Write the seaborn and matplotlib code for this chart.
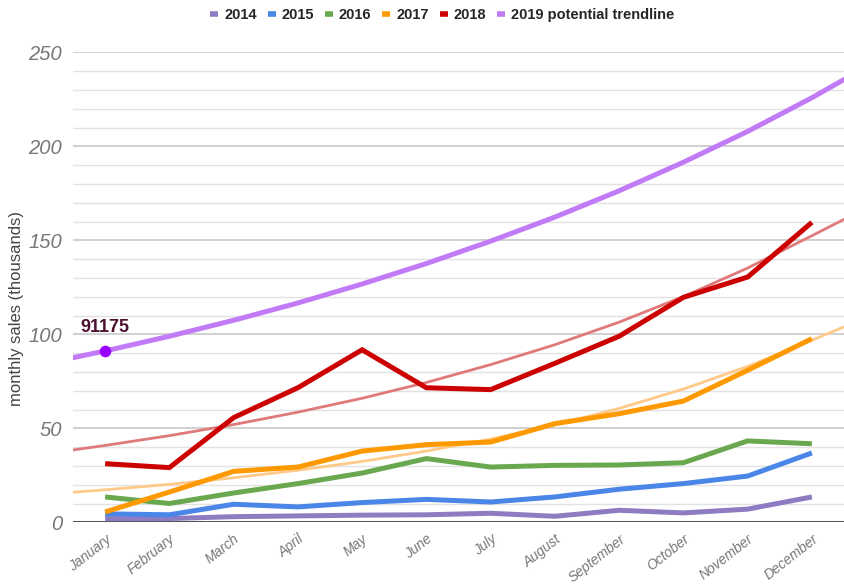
import matplotlib
matplotlib.use("Agg")
import matplotlib.pyplot as plt
from matplotlib.lines import Line2D
import numpy as np
import pandas as pd
import seaborn as sns

# Monthly sales in thousands
months = ["January", "February", "March", "April", "May", "June", "July",
          "August", "September", "October", "November", "December"]
sales_2014 = [2.0, 2.0, 3.0, 3.4, 3.8, 4.0, 4.8, 3.2, 6.4, 5.0, 7.0, 13.5]
sales_2015 = [4.5, 4.0, 9.6, 8.2, 10.5, 12.2, 10.8, 13.5, 17.6, 20.6, 24.6, 36.9]
sales_2016 = [13.5, 10.0, 15.6, 20.6, 26.2, 33.9, 29.4, 30.3, 30.5, 31.7, 43.3, 41.8]
sales_2017 = [5.5, 16.1, 27.1, 29.4, 37.9, 41.3, 42.7, 52.5, 57.8, 64.5, 80.9, 97.7]
sales_2018 = [31.2, 29.1, 55.7, 71.6, 91.8, 71.6, 70.6, 84.6, 99.0, 119.7, 130.5, 159.6]

# Trendlines span the full axis, half a month beyond January and December
trend_pos = [-0.5, 0, 1, 2, 3, 4, 5, 6, 7, 8, 9, 10, 11, 11.5]
trend_2017 = [16.0, 17.3, 20.2, 23.7, 27.7, 32.4, 37.9, 44.3, 51.8, 60.6, 70.9, 82.9, 96.9, 104.0]
trend_2018 = [38.5, 40.9, 46.1, 52.0, 58.6, 66.0, 74.4, 83.9, 94.5, 106.5, 120.1, 135.3, 152.5, 161.2]
trend_2019 = [87.6, 91.175, 99.0, 107.5, 116.7, 126.8, 137.7, 149.6, 162.4, 176.4, 191.6, 208.0, 225.9, 235.6]

jan_2019 = 91.175
jan_2019_label = "91175"

series_names = ["2014", "2015", "2016", "2017", "2018"]
series_values = [sales_2014, sales_2015, sales_2016, sales_2017, sales_2018]
colors = {"2014": "#8e7cc3", "2015": "#4a86e8", "2016": "#6aa84f",
          "2017": "#ff9900", "2018": "#cc0000", "2019 potential trendline": "#c27bf7"}

sales = pd.DataFrame({
    "month": np.tile(np.arange(len(months)), len(series_names)),
    "sales": np.concatenate(series_values),
    "year": np.repeat(series_names, len(months)),
})
trends = pd.DataFrame({
    "month": np.tile(trend_pos, 3),
    "sales": np.concatenate([trend_2017, trend_2018, trend_2019]),
    "year": np.repeat(["2017", "2018", "2019"], len(trend_pos)),
})

sns.set_theme(style="white")
plt.rcParams["font.family"] = ["Liberation Sans", "DejaVu Sans"]

fig = plt.figure(figsize=(8.44, 5.88), dpi=100)
ax = fig.add_axes([73 / 844, 65.7 / 588, 1 - 73 / 844, 0.7990])

# grid: light lines every 10k, darker every 50k
for v in range(10, 260, 10):
    major = v % 50 == 0
    ax.axhline(v, color="#c4c4c4" if major else "#e2e2e2", lw=1.1 if major else 1.0, zorder=0)
ax.axhline(0, color="#333333", lw=1.2, zorder=1)

# faded trendlines for 2017 and 2018
sns.lineplot(data=trends[trends.year == "2017"], x="month", y="sales", ax=ax,
             color="#ffc98a", lw=2.0, legend=False, zorder=2)
sns.lineplot(data=trends[trends.year == "2018"], x="month", y="sales", ax=ax,
             color="#e07a7a", lw=2.0, legend=False, zorder=2)

sns.lineplot(data=sales, x="month", y="sales", hue="year", palette=colors,
             hue_order=series_names, lw=3.6, ax=ax, legend=False, zorder=3,
             solid_capstyle="butt", solid_joinstyle="miter")

sns.lineplot(data=trends[trends.year == "2019"], x="month", y="sales", ax=ax,
             color=colors["2019 potential trendline"], lw=3.6, legend=False, zorder=4)
ax.scatter([0], [jan_2019], s=70, color="#9900ff", zorder=5, linewidths=0)
ax.annotate(jan_2019_label, (0, jan_2019), xytext=(0, 11), textcoords="offset points",
            ha="center", va="bottom", fontsize=13, fontweight="bold", color="#4c1130")

ax.set_xlim(-0.5, 11.5)
ax.set_ylim(0, 250)
ax.set_yticks(range(0, 251, 50))
ax.set_yticklabels([str(v) for v in range(0, 251, 50)], fontsize=14.5,
                   style="italic", color="#777777")
ax.set_xticks(range(len(months)))
ax.set_xticklabels(months, rotation=38, ha="right", va="top", rotation_mode="anchor",
                   fontsize=10, style="italic", color="#777777")
ax.tick_params(axis="y", length=0, pad=8)
ax.tick_params(axis="x", length=0, pad=7)
ax.set_xlabel("")
ax.set_ylabel("")
for s in ax.spines.values():
    s.set_visible(False)

fig.text(0.019, 0.476, "monthly sales (thousands)", rotation=90, ha="center", va="center",
         fontsize=12, color="#444444")

handles = [Line2D([], [], color=colors[k], lw=4, solid_capstyle="butt") for k in colors]
fig.legend(handles, list(colors), loc="center", bbox_to_anchor=(0.524, 0.974), ncol=6,
           frameon=False, handlelength=0.55, handletextpad=0.4, columnspacing=0.75,
           prop={"size": 10.5, "weight": "bold"})

fig.savefig("out.png", dpi=100, facecolor="white")
